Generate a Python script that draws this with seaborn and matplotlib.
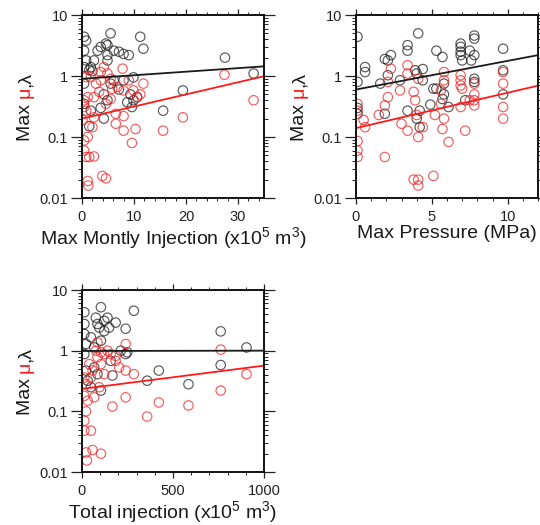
import numpy as np
import pandas as pd
import matplotlib
matplotlib.use("Agg")
import matplotlib.pyplot as plt
import seaborn as sns
from matplotlib.ticker import FixedLocator, FixedFormatter, MultipleLocator, LogLocator, NullFormatter

sns.set_style("ticks")
plt.rcParams['font.family'] = ['Liberation Sans', 'DejaVu Sans']
plt.rcParams['mathtext.fontset'] = 'custom'
plt.rcParams['mathtext.rm'] = 'Liberation Sans'
plt.rcParams['mathtext.it'] = 'Liberation Sans:italic'

# ---------------- data ----------------
# Panel 1: max monthly injection (x1e5 m3)
p1_black_x = [0.4, 0.8, 0.4, 0.8, 0.4, 0.4, 1.4, 1.7, 2.0, 2.3, 3.0, 3.6, 4.6, 4.9, 5.5, 4.9, 4.9, 6.1, 7.1, 8.0,
              9.0, 11.2, 11.8, 9.9, 8.0, 6.1, 5.5, 4.2, 4.9, 3.6, 4.2, 1.7, 1.4, 0.4, 9.3, 10.6, 8.7, 9.6, 15.6, 19.4,
              27.5, 33.0, 9.9, 7.1]
p1_black_y = [4.4, 3.8, 2.6, 1.8, 1.4, 0.75, 1.25, 1.4, 1.2, 1.8, 2.6, 3.0, 3.4, 3.2, 5.0, 2.2, 1.8, 2.6, 2.5, 2.3,
              2.2, 4.4, 2.8, 0.95, 0.85, 0.85, 0.75, 0.5, 0.4, 0.3, 0.2, 0.27, 0.15, 0.35, 0.5, 0.45, 0.37, 0.31, 0.27, 0.58,
              2.0, 1.1, 0.4, 0.6]
p1_red_x = [0.4, 0.8, 0.1, 0.4, 0.4, 0.8, 1.4, 2.3, 1.1, 1.2, 3.9, 4.6, 1.1, 2.0, 2.3, 2.3, 2.7, 3.6, 4.2, 4.9,
            5.5, 5.8, 6.8, 6.5, 6.5, 8.0, 8.0, 7.8, 8.0, 9.0, 9.6, 9.9, 10.6, 11.2, 11.8, 10.3, 15.6, 19.4, 27.4, 33.0,
            0.8, 1.7, 3.6, 3.3, 4.6, 5.5, 1.1, 0.4]
p1_red_y = [0.31, 0.27, 0.19, 0.088, 0.06, 0.047, 0.047, 0.048, 0.019, 0.016, 0.023, 0.021, 0.1, 0.145, 0.21, 0.45, 0.75, 1.16, 1.4, 1.1,
            0.9, 0.62, 0.66, 0.24, 0.165, 0.22, 0.127, 1.32, 0.58, 0.85, 0.08, 0.58, 0.45, 0.5, 0.75, 0.135, 0.127, 0.21, 1.05, 0.4,
            0.96, 0.96, 0.85, 0.55, 0.35, 0.42, 0.45, 0.4]

# Panel 2: max pressure (MPa)
p2_black_x = [0.1, 0.1, 0.1, 0.1, 0.6, 0.6, 1.6, 1.9, 2.1, 2.3, 2.1, 1.9, 2.9, 3.4, 3.4, 3.4, 3.9, 4.1, 4.0, 4.0,
              4.2, 4.2, 4.4, 4.4, 5.3, 5.7, 5.1, 5.3, 5.7, 5.8, 5.8, 6.1, 6.9, 6.9, 6.9, 6.9, 7.0, 7.5, 7.6, 7.8,
              7.8, 7.8, 7.8, 7.8, 7.2, 9.7, 9.7, 9.7, 4.9]
p2_black_y = [4.4, 0.8, 0.3, 0.24, 1.4, 1.16, 0.75, 1.9, 1.8, 2.2, 1.03, 0.24, 0.85, 3.2, 2.6, 0.27, 1.24, 5.0, 1.1, 0.2,
              0.27, 0.145, 1.3, 0.85, 2.6, 2.05, 0.62, 0.62, 0.42, 0.5, 0.75, 0.31, 3.4, 3.0, 2.5, 2.2, 1.8, 2.6, 1.8, 4.6,
              4.1, 2.2, 0.9, 0.8, 0.4, 2.8, 1.24, 0.5, 0.34]
p2_red_x = [0.1, 0.1, 0.1, 0.1, 0.1, 0.5, 0.6, 1.5, 1.9, 2.1, 1.9, 2.3, 2.1, 2.9, 3.0, 3.4, 3.4, 3.4, 3.8, 3.9,
            3.8, 4.1, 4.1, 4.0, 4.1, 4.4, 4.1, 5.2, 5.1, 5.6, 5.7, 5.8, 5.8, 5.8, 6.1, 6.9, 6.9, 6.9, 7.0, 6.9,
            7.2, 7.5, 7.8, 7.8, 7.8, 7.8, 9.7, 9.7, 9.7, 9.7, 5.6]
p2_red_y = [0.35, 0.27, 0.086, 0.06, 0.047, 0.19, 0.145, 0.23, 0.33, 0.45, 0.047, 1.32, 0.8, 0.58, 0.165, 1.5, 1.1, 0.127, 0.55, 0.4,
            0.02, 0.02, 0.016, 0.23, 0.1, 0.145, 0.9, 0.23, 0.023, 0.35, 0.135, 0.2, 1.16, 0.85, 0.083, 1.03, 0.85, 0.7, 0.62, 0.31,
            0.127, 0.4, 0.5, 0.4, 0.33, 0.75, 0.75, 0.31, 0.2, 1.16, 0.58]

# Panel 3: total injection (x1e5 m3)
p3_black_x = [13, 13, 13, 22, 13, 22, 31, 49, 76, 85, 104, 95, 122, 140, 149, 185, 285, 240, 67, 104,
              122, 158, 213, 240, 249, 67, 85, 104, 49, 167, 358, 422, 585, 762, 762, 904]
p3_black_y = [4.3, 2.75, 1.88, 1.29, 0.88, 0.47, 0.32, 1.66, 3.5, 2.75, 5.2, 2.4, 3.1, 3.5, 2.4, 2.9, 4.55, 2.3, 1.13, 1.46,
              2.1, 0.68, 1.0, 0.88, 0.94, 0.53, 0.41, 0.22, 0.25, 0.39, 0.32, 0.47, 0.28, 2.08, 0.58, 1.13]
p3_red_x = [13, 22, 13, 22, 13, 13, 49, 22, 27, 58, 104, 31, 67, 58, 49, 76, 85, 104, 122, 140,
            158, 185, 204, 240, 240, 285, 185, 104, 122, 167, 240, 358, 422, 585, 762, 762, 904, 95, 40, 85]
p3_red_y = [0.36, 0.28, 0.18, 0.1, 0.07, 0.048, 0.048, 0.021, 0.0155, 0.023, 0.02, 0.15, 0.17, 0.47, 0.36, 1.0, 0.78, 0.6, 0.88, 1.0,
            0.88, 0.68, 0.53, 1.29, 0.47, 0.41, 0.82, 0.94, 0.41, 0.12, 0.17, 0.082, 0.14, 0.125, 1.04, 0.22, 0.41, 0.25, 0.6, 1.37]

# log-linear fits: log10(y) = c0 + c1 * x
p1_black_fit = [-0.046, 0.00583]
p1_red_fit = [-0.699, 0.01986]
p2_black_fit = [-0.222, 0.0470]
p2_red_fit = [-0.854, 0.0580]
p3_black_fit = [-0.005, 0.000005]
p3_red_fit = [-0.63, 0.000383]

xlabels = ['Max Montly Injection (x10$^{5}$ m$^{3}$)', 'Max Pressure (MPa)', 'Total injection (x10$^{5}$ m$^{3}$)']
xlims = [(0, 35), (0, 12), (0, 1000)]
xmajors = [10, 5, 500]
xminors = [2, 1, 100]
ytick_vals = [0.01, 0.1, 1, 10]
ytick_labels = ['0.01', '0.1', '1', '10']

# ---------------- figure ----------------
W, H = 540, 525
fig = plt.figure(figsize=(W / 100, H / 100), dpi=100)
rects_px = [(82, 15, 182, 183), (356, 15, 182, 183), (82, 290, 182, 182)]

BLACK = '#1a1a1a'
RED = '#ee2020'

panels = [
    (p1_black_x, p1_black_y, p1_red_x, p1_red_y, p1_black_fit, p1_red_fit),
    (p2_black_x, p2_black_y, p2_red_x, p2_red_y, p2_black_fit, p2_red_fit),
    (p3_black_x, p3_black_y, p3_red_x, p3_red_y, p3_black_fit, p3_red_fit),
]

axes = []
for i, (bx, by, rx, ry, bfit, rfit) in enumerate(panels):
    l, t, w, h = rects_px[i]
    ax = fig.add_axes([l / W, 1 - (t + h) / H, w / W, h / H])
    axes.append(ax)
    df = pd.concat([
        pd.DataFrame({'x': bx, 'y': by, 'kind': 'lambda'}),
        pd.DataFrame({'x': rx, 'y': ry, 'kind': 'mu'}),
    ], ignore_index=True)
    sns.scatterplot(data=df, x='x', y='y', hue='kind', palette={'lambda': BLACK, 'mu': RED},
                    marker='o', s=46, facecolors='none', linewidth=0.85, alpha=0.72, legend=False, ax=ax)
    coll = ax.collections[-1]
    cols = [BLACK if k == 'lambda' else RED for k in df['kind']]
    coll.set_edgecolors(cols)
    coll.set_facecolors('none')

    xl = xlims[i]
    xs = np.linspace(xl[0], xl[1], 50)
    fit_df = pd.concat([
        pd.DataFrame({'x': xs, 'y': 10 ** (bfit[0] + bfit[1] * xs), 'kind': 'lambda'}),
        pd.DataFrame({'x': xs, 'y': 10 ** (rfit[0] + rfit[1] * xs), 'kind': 'mu'}),
    ], ignore_index=True)
    sns.lineplot(data=fit_df, x='x', y='y', hue='kind', palette={'lambda': BLACK, 'mu': '#ff1a1a'},
                 linewidth=1.3, legend=False, ax=ax)

    ax.set_yscale('log')
    ax.set_ylim(0.01, 10)
    ax.set_xlim(*xl)
    ax.yaxis.set_major_locator(FixedLocator(ytick_vals))
    ax.yaxis.set_major_formatter(FixedFormatter(ytick_labels))
    ax.yaxis.set_minor_locator(LogLocator(base=10, subs=np.arange(2, 10)))
    ax.yaxis.set_minor_formatter(NullFormatter())
    ax.xaxis.set_major_locator(MultipleLocator(xmajors[i]))
    ax.xaxis.set_minor_locator(MultipleLocator(xminors[i]))
    ax.tick_params(which='both', direction='out', top=True, right=True, color='#222222')
    ax.tick_params(axis='y', which='major', length=8, width=0.9, pad=2, labelsize=10.5, labelcolor='#222222')
    ax.tick_params(axis='y', which='minor', length=3, width=0.7)
    ax.tick_params(axis='x', which='major', length=4, width=0.9, pad=4.5, labelsize=10.5, labelcolor='#222222')
    ax.tick_params(axis='x', which='minor', length=2.5, width=0.7)
    for sp in ax.spines.values():
        sp.set_linewidth(1.4)
        sp.set_color('#111111')
    ax.set_ylabel('')
    ax.set_xlabel(xlabels[i], fontsize=14, color='#1a1a1a', labelpad=1)

# ---------------- coloured y labels ----------------
fig.canvas.draw()
renderer = fig.canvas.get_renderer()
label_fs = 14


def text_width(s):
    t = fig.text(0, 0, s, fontsize=label_fs)
    wdt = t.get_window_extent(renderer).width
    t.remove()
    return wdt


full = 'Max \u03bc,\u03bb'
w_full = text_width(full)
off_mu = text_width('Max \u03bc') - text_width('\u03bc')
off_rest = w_full - text_width(',\u03bb')
pieces = [('Max ', 0.0, '#1a1a1a'), ('\u03bc', off_mu, RED), (',\u03bb', off_rest, '#1a1a1a')]

for i, ax in enumerate(axes):
    l, t, w, h = rects_px[i]
    x_base = l - 52
    y_center = t + h / 2
    y0 = y_center + w_full / 2
    for s, off, col in pieces:
        fig.text(x_base / W, 1 - (y0 - off) / H, s, fontsize=label_fs, color=col,
                 rotation=90, rotation_mode='anchor', ha='left', va='baseline')

fig.savefig('out.png', dpi=100)
